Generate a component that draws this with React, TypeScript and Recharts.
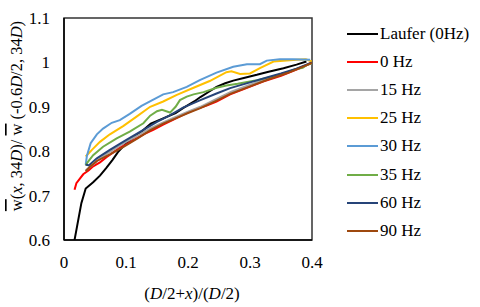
import { LineChart, Line, XAxis, YAxis, ReferenceArea } from 'recharts';

type Pt = [number, number];

const xTicks = [0, 0.1, 0.2, 0.3, 0.4];
const xTickLabels = ['0', '0.1', '0.2', '0.3', '0.4'];
const yTicks = [0.6, 0.7, 0.8, 0.9, 1.0, 1.1];
const yTickLabels = ['0.6', '0.7', '0.8', '0.9', '1', '1.1'];

const laufer: Pt[] = [
  [0.017, 0.6], [0.021, 0.63], [0.028, 0.683], [0.035, 0.716], [0.047, 0.73],
  [0.058, 0.745], [0.068, 0.762], [0.078, 0.78], [0.087, 0.798], [0.1, 0.818],
  [0.12, 0.838], [0.14, 0.862], [0.16, 0.874], [0.18, 0.886], [0.192, 0.897],
  [0.21, 0.912], [0.22, 0.922], [0.235, 0.935], [0.246, 0.945], [0.26, 0.953],
  [0.273, 0.959], [0.29, 0.965], [0.311, 0.972], [0.33, 0.979], [0.354, 0.987],
  [0.375, 0.995], [0.391, 1.002],
];

const hz0: Pt[] = [
  [0.017, 0.713], [0.02, 0.728], [0.025, 0.737], [0.031, 0.748], [0.04, 0.757],
  [0.047, 0.766], [0.058, 0.775], [0.069, 0.787], [0.08, 0.798], [0.09, 0.808],
  [0.1, 0.815], [0.117, 0.829], [0.13, 0.839], [0.144, 0.848], [0.16, 0.86],
  [0.175, 0.87], [0.192, 0.882], [0.21, 0.893], [0.23, 0.903], [0.246, 0.912],
  [0.268, 0.928], [0.29, 0.94], [0.321, 0.957], [0.35, 0.97], [0.375, 0.984],
  [0.39, 0.993], [0.4, 1.0],
];

const hz15: Pt[] = [
  [0.035, 0.757], [0.045, 0.768], [0.055, 0.78], [0.07, 0.795], [0.085, 0.808],
  [0.1, 0.821], [0.12, 0.836], [0.14, 0.852], [0.16, 0.865], [0.18, 0.877],
  [0.2, 0.889], [0.22, 0.9], [0.246, 0.918], [0.27, 0.934], [0.3, 0.95],
  [0.33, 0.964], [0.36, 0.978], [0.38, 0.988], [0.4, 0.998],
];

const hz25: Pt[] = [
  [0.035, 0.788], [0.045, 0.803], [0.058, 0.821], [0.074, 0.838], [0.096, 0.857],
  [0.117, 0.878], [0.139, 0.9], [0.16, 0.912], [0.182, 0.927], [0.209, 0.943],
  [0.235, 0.958], [0.262, 0.978], [0.27, 0.98], [0.284, 0.974], [0.3, 0.975],
  [0.316, 0.987], [0.338, 1.002], [0.375, 1.006], [0.39, 1.007], [0.4, 1.002],
];

const hz30: Pt[] = [
  [0.035, 0.77], [0.037, 0.79], [0.043, 0.818], [0.053, 0.838], [0.063, 0.851],
  [0.077, 0.864], [0.09, 0.87], [0.106, 0.884], [0.125, 0.902], [0.141, 0.914],
  [0.16, 0.928], [0.176, 0.933], [0.198, 0.945], [0.219, 0.96], [0.246, 0.977],
  [0.273, 0.99], [0.295, 0.996], [0.316, 0.996], [0.327, 1.004], [0.348, 1.007],
  [0.37, 1.007], [0.397, 1.006],
];

const hz35: Pt[] = [
  [0.035, 0.768], [0.038, 0.775], [0.047, 0.791], [0.063, 0.81], [0.085, 0.829],
  [0.106, 0.844], [0.128, 0.863], [0.139, 0.88], [0.15, 0.89], [0.158, 0.893],
  [0.171, 0.887], [0.18, 0.9], [0.187, 0.915], [0.198, 0.923], [0.209, 0.928],
  [0.225, 0.933], [0.246, 0.943], [0.262, 0.948], [0.28, 0.952], [0.311, 0.96],
  [0.335, 0.968], [0.354, 0.975], [0.375, 0.985], [0.385, 0.988], [0.391, 0.994],
  [0.4, 0.998],
];

const hz60: Pt[] = [
  [0.035, 0.77], [0.04, 0.768], [0.053, 0.784], [0.074, 0.803], [0.1, 0.825],
  [0.128, 0.848], [0.15, 0.866], [0.17, 0.88], [0.192, 0.898], [0.22, 0.915],
  [0.246, 0.93], [0.268, 0.942], [0.3, 0.955], [0.33, 0.967], [0.35, 0.975],
  [0.375, 0.986], [0.4, 1.0],
];

const hz90: Pt[] = [
  [0.035, 0.755], [0.042, 0.765], [0.053, 0.778], [0.074, 0.793], [0.096, 0.81],
  [0.12, 0.83], [0.14, 0.848], [0.16, 0.862], [0.18, 0.874], [0.2, 0.886],
  [0.22, 0.897], [0.246, 0.914], [0.268, 0.929], [0.3, 0.946], [0.33, 0.962],
  [0.36, 0.976], [0.38, 0.987], [0.4, 0.999],
];

const series = [
  { name: 'Laufer (0Hz)', color: '#000000', pts: laufer },
  { name: '0 Hz', color: '#ff0000', pts: hz0 },
  { name: '15 Hz', color: '#a5a5a5', pts: hz15 },
  { name: '25 Hz', color: '#ffc000', pts: hz25 },
  { name: '30 Hz', color: '#5b9bd5', pts: hz30 },
  { name: '35 Hz', color: '#70ad47', pts: hz35 },
  { name: '60 Hz', color: '#264478', pts: hz60 },
  { name: '90 Hz', color: '#9e480e', pts: hz90 },
];

const font = '"Liberation Serif", "Times New Roman", serif';

function YLabel(props: any) {
  const vb = props.viewBox || { x: 0, y: 18, width: 64, height: 222 };
  const cx = vb.x + 16;
  const cy = vb.y + vb.height / 2 - 13;
  return (
    <text
      x={cx}
      y={cy}
      transform={`rotate(-90 ${cx} ${cy})`}
      textAnchor="middle"
      dominantBaseline="central"
      fontFamily={font}
      fontSize={16.5}
      fill="#000"
    >
      <tspan textDecoration="overline">w</tspan>
      <tspan>(</tspan>
      <tspan fontStyle="italic">x</tspan>
      <tspan>, 34</tspan>
      <tspan fontStyle="italic">D</tspan>
      <tspan>)/ </tspan>
      <tspan textDecoration="overline">w</tspan>
      <tspan> (-0.6</tspan>
      <tspan fontStyle="italic">D</tspan>
      <tspan>/2, 34</tspan>
      <tspan fontStyle="italic">D</tspan>
      <tspan>)</tspan>
    </text>
  );
}

function XLabel(props: any) {
  const vb = props.viewBox || { x: 64, y: 240, width: 248, height: 67 };
  const cx = vb.x + vb.width / 2 + 4;
  const cy = 293;
  return (
    <text
      x={cx}
      y={cy}
      textAnchor="middle"
      dominantBaseline="central"
      fontFamily={font}
      fontSize={17}
      fill="#000"
    >
      <tspan>(</tspan>
      <tspan fontStyle="italic">D</tspan>
      <tspan>/2+</tspan>
      <tspan fontStyle="italic">x</tspan>
      <tspan>)/(</tspan>
      <tspan fontStyle="italic">D</tspan>
      <tspan>/2)</tspan>
    </text>
  );
}

export default function App() {
  return (
    <div style={{ position: 'absolute', left: 0, top: 0, width: 480, height: 307, background: '#fff' }}>
      <LineChart
        width={480}
        height={307}
        margin={{ top: 18, right: 168, left: 0, bottom: 0 }}
      >
        <XAxis
          type="number"
          dataKey="x"
          domain={[0, 0.4]}
          ticks={xTicks}
          tickFormatter={(v: number) => xTickLabels[xTicks.indexOf(v)] ?? String(v)}
          tickLine={false}
          tickSize={0}
          tickMargin={16}
          axisLine={{ stroke: '#000', strokeWidth: 1.5 }}
          tick={{ fill: '#000', fontSize: 17, fontFamily: font }}
          height={67}
          label={<XLabel />}
          allowDataOverflow
        />
        <YAxis
          type="number"
          domain={[0.6, 1.1]}
          ticks={yTicks}
          tickFormatter={(v: number) => yTickLabels[yTicks.findIndex((t) => Math.abs(t - v) < 1e-9)] ?? String(v)}
          tickLine={false}
          tickSize={0}
          tickMargin={14}
          axisLine={{ stroke: '#000', strokeWidth: 1.5 }}
          tick={{ fill: '#000', fontSize: 17, fontFamily: font }}
          width={64}
          label={<YLabel />}
          allowDataOverflow
        />
        <ReferenceArea
          x1={0}
          x2={0.4}
          y1={0.6}
          y2={1.1}
          fill="none"
          stroke="#333"
          strokeWidth={1.5}
          ifOverflow="visible"
        />
        {series.map((s) => (
          <Line
            key={s.name}
            data={s.pts.map(([x, y]) => ({ x, y }))}
            dataKey="y"
            name={s.name}
            type="linear"
            stroke={s.color}
            strokeWidth={2}
            dot={false}
            activeDot={false}
            isAnimationActive={false}
          />
        ))}
      </LineChart>
      <div style={{ position: 'absolute', left: 347, top: 20, fontFamily: font, fontSize: 17, color: '#000' }}>
        {series.map((s) => (
          <div key={s.name} style={{ display: 'flex', alignItems: 'center', height: 28.1 }}>
            <div style={{ width: 31, height: 2, background: s.color, marginRight: 2 }} />
            <span>{s.name}</span>
          </div>
        ))}
      </div>
    </div>
  );
}
